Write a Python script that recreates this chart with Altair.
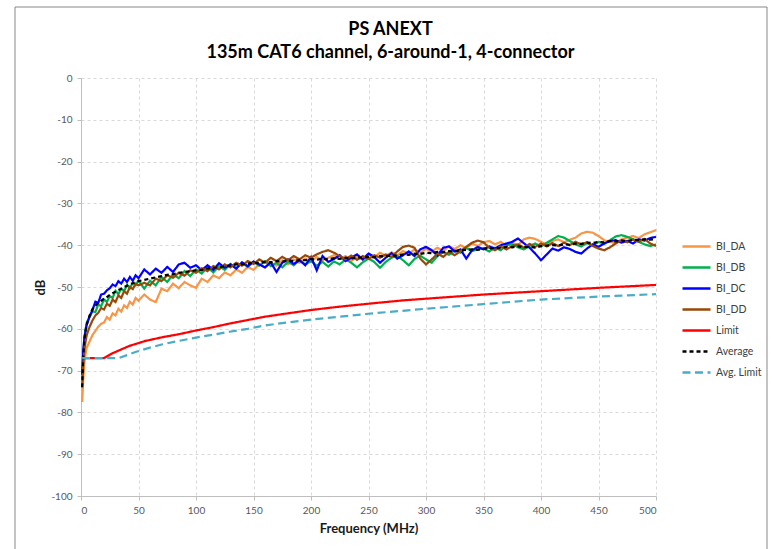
import altair as alt
import pandas as pd

# ---------------- data ----------------
FREQ = [1, 2, 3, 4, 5,
        7.5, 10, 12.5, 15, 17.5, 20, 22.5, 25, 27.5, 30, 32.5, 35, 37.5, 40, 42.5, 45, 47.5, 50,
        55, 60, 65, 70, 75, 80, 85, 90, 95, 100,
        105, 110, 115, 120, 125, 130, 135, 140, 145, 150,
        155, 160, 165, 170, 175, 180, 185, 190, 195, 200,
        205, 210, 215, 220, 225, 230, 235, 240, 245, 250,
        255, 260, 265, 270, 275, 280, 285, 290, 295, 300,
        305, 310, 315, 320, 325, 330, 335, 340, 345, 350,
        355, 360, 365, 370, 375, 380, 385, 390, 395, 400,
        405, 410, 415, 420, 425, 430, 435, 440, 445, 450,
        455, 460, 465, 470, 475, 480, 485, 490, 495, 500]

BI_DA = [-77.5, -72.0, -68.0, -66.0, -64.5,
         -63.0, -61.5, -60.5, -59.5, -58.8, -58.5, -57.2, -57.8, -56.3, -56.8, -55.2, -55.9, -54.4, -55.0, -53.5, -54.2, -52.6, -53.3,
         -51.8, -53.0, -53.6, -50.4, -51.0, -49.2, -50.3, -48.8, -49.6, -50.2,
         -48.0, -48.8, -47.2, -47.9, -46.5, -47.2, -45.8, -46.6, -45.2, -45.9,
         -44.6, -45.3, -44.2, -44.9, -43.6, -44.6, -43.4, -44.2, -43.2, -44.0,
         -42.8, -43.6, -43.0, -42.4, -43.3, -42.6, -43.8, -42.8, -43.5, -42.2,
         -42.9, -41.8, -42.6, -41.7, -42.4, -41.4, -42.1, -41.0, -41.8, -40.9,
         -41.5, -40.6, -41.4, -40.2, -40.9, -40.0, -40.7, -39.6, -40.2, -39.3,
         -39.0, -39.8, -39.2, -40.2, -39.4, -40.0, -38.6, -38.2, -38.5, -39.2,
         -39.9, -39.0, -38.6, -39.3, -38.7, -38.2, -37.2, -36.8, -37.0, -37.8,
         -38.8, -39.2, -39.5, -38.6, -38.2, -37.8, -38.3, -37.4, -36.9, -36.4]

BI_DB = [-72.0, -66.0, -62.0, -60.0, -58.5,
         -57.2, -55.8, -56.0, -54.2, -54.6, -53.0, -53.6, -52.2, -52.6, -50.9, -51.7, -50.4, -51.0, -49.5, -50.3, -49.0, -49.6, -48.4,
         -50.4, -48.5, -49.6, -47.6, -48.8, -47.0, -47.9, -46.2, -47.4, -45.8,
         -46.8, -45.3, -46.5, -45.0, -45.9, -44.5, -45.5, -44.2, -45.2, -44.0,
         -44.9, -43.8, -45.0, -44.2, -45.3, -44.0, -44.8, -43.5, -44.6, -43.8,
         -44.9, -44.0, -45.1, -43.9, -44.6, -43.4, -44.2, -45.3, -44.1, -43.2,
         -44.0, -45.4, -44.0, -43.0, -42.5, -43.6, -44.8, -43.3, -42.5, -43.4,
         -44.2, -42.6, -41.6, -42.3, -41.2, -41.8, -40.7, -41.4, -41.0, -40.8,
         -41.5, -40.6, -41.2, -40.0, -39.8, -40.5, -41.0, -40.2, -39.6, -40.3,
         -39.4, -38.6, -37.8, -38.2, -39.0, -39.8, -40.3, -39.5, -40.0, -39.2,
         -39.6, -38.8, -37.9, -37.6, -38.0, -38.6, -39.2, -39.8, -40.2, -39.8]

BI_DC = [-71.0, -65.0, -62.0, -60.5, -59.0,
         -57.0, -55.5, -53.5, -53.8, -51.8, -51.6, -50.8, -50.3, -49.4, -49.8, -48.6, -49.2, -48.0, -48.8, -47.6, -48.5, -47.2, -47.9,
         -45.8, -47.0, -45.6, -46.6, -45.2, -46.4, -44.6, -44.2, -45.4, -44.8,
         -46.0, -44.8, -45.9, -44.3, -45.4, -44.6, -45.6, -44.1, -45.0, -43.9,
         -44.6, -45.3, -44.1, -46.4, -44.2, -43.4, -44.5, -43.6, -44.8, -42.8,
         -46.0, -42.6, -44.0, -43.3, -42.4, -43.8, -43.0, -42.2, -43.4, -42.0,
         -42.8, -44.2, -43.0, -41.9, -43.2, -42.4, -41.5, -42.6, -41.0, -40.4,
         -41.2, -42.5, -40.6, -40.3, -41.5, -41.0, -43.2, -41.2, -40.4, -41.0,
         -40.3, -40.8, -40.0, -39.6, -39.2, -38.4, -39.5, -40.6, -42.0, -43.6,
         -42.2, -40.8, -41.3, -40.5, -40.9, -41.6, -42.0, -40.8, -39.8, -40.4,
         -39.6, -39.0, -38.8, -39.4, -39.0, -39.6, -38.6, -38.9, -38.3, -38.0]

BI_DD = [-74.0, -68.5, -65.0, -63.0, -61.5,
         -59.5, -58.0, -56.8, -56.2, -55.0, -55.4, -54.0, -54.5, -53.0, -53.6, -52.0, -52.6, -51.0, -51.6, -50.0, -50.5, -49.2, -49.6,
         -49.0, -49.6, -48.0, -48.6, -47.2, -47.8, -46.6, -47.3, -46.0, -46.6,
         -45.5, -46.2, -45.0, -45.8, -44.6, -45.3, -44.2, -44.9, -43.8, -44.5,
         -43.4, -44.2, -43.0, -43.8, -42.8, -43.6, -42.6, -43.4, -42.4, -43.0,
         -42.2, -41.6, -41.2, -41.8, -42.6, -43.4, -42.5, -43.5, -42.6, -43.3,
         -42.4, -43.0, -42.2, -42.8, -41.5, -40.4, -40.1, -40.6, -43.2, -44.6,
         -43.4, -42.0, -42.8, -41.6, -42.4, -41.4, -40.4, -39.4, -38.9, -39.3,
         -40.6, -41.2, -40.3, -41.0, -40.2, -39.8, -40.6, -39.7, -40.4, -39.6,
         -40.3, -39.5, -40.2, -39.4, -40.0, -39.2, -39.8, -39.3, -40.2, -40.8,
         -41.2, -40.5, -39.6, -38.8, -39.3, -38.6, -39.2, -38.5, -39.6, -40.2]

AVERAGE = [-74.0, -66.5, -62.5, -60.5, -59.0,
           -56.8, -55.3, -54.5, -53.8, -53.3, -52.8, -52.4, -51.9, -51.5, -51.1, -50.7, -50.4, -50.0, -49.7, -49.3, -49.1, -48.8, -48.6,
           -48.3, -48.0, -47.7, -47.4, -47.1, -46.9, -46.6, -46.4, -46.2, -46.0,
           -45.9, -45.6, -45.4, -45.3, -45.0, -44.9, -44.6, -44.6, -44.4, -44.2,
           -44.3, -44.0, -44.1, -43.8, -43.9, -43.6, -43.8, -43.5, -43.6, -43.3,
           -43.5, -43.2, -43.4, -43.1, -43.3, -43.0, -43.2, -42.9, -43.0, -42.8,
           -42.9, -42.6, -42.7, -42.4, -42.5, -42.2, -42.3, -42.0, -42.1, -41.8,
           -41.9, -41.6, -41.7, -41.4, -41.5, -41.2, -41.1, -41.0, -41.1, -40.8,
           -40.8, -40.6, -40.7, -40.4, -40.5, -40.3, -40.5, -40.4, -40.6, -40.2,
           -40.1, -40.0, -40.1, -39.8, -39.9, -39.6, -39.7, -39.4, -39.5, -39.2,
           -39.3, -39.0, -39.1, -38.9, -39.0, -38.7, -38.8, -38.6, -38.7, -38.5]

LIMIT_FREQ = [1, 20, 27, 42, 56, 71, 85, 100, 115, 130, 145, 160, 175, 200, 225, 250, 280, 300, 350, 400, 450, 500]
LIMIT = [-67.0, -67.0, -65.9, -64.1, -62.9, -62.0, -61.3, -60.4, -59.6, -58.7, -57.9, -57.1, -56.5,
         -55.5, -54.7, -54.0, -53.2, -52.8, -51.8, -51.0, -50.2, -49.5]

AVG_LIMIT_FREQ = [1, 33, 40, 48, 60, 71, 85, 100, 115, 129, 145, 158, 173, 200, 250, 300, 350, 400, 450, 500]
AVG_LIMIT = [-67.0, -67.0, -66.3, -65.5, -64.5, -63.7, -62.9, -62.1, -61.4, -60.7, -60.0, -59.3, -58.7,
             -57.8, -56.4, -55.2, -54.1, -53.0, -52.3, -51.7]

SERIES = ["BI_DA", "BI_DB", "BI_DC", "BI_DD", "Limit", "Average", "Avg. Limit"]
COLORS = ["#F79646", "#00B050", "#0000FF", "#984807", "#FF0000", "#000000", "#4BACC6"]
DASHES = [[1, 0], [1, 0], [1, 0], [1, 0], [1, 0], [4, 3], [8, 4.5]]

X_TICKS = [0, 50, 100, 150, 200, 250, 300, 350, 400, 450, 500]
Y_TICKS = [0, -10, -20, -30, -40, -50, -60, -70, -80, -90, -100]

TITLE = ["PS ANEXT", "135m CAT6 channel, 6-around-1, 4-connector"]

# ---------------- long table ----------------
rows = []
for name, fr, vals in [("BI_DA", FREQ, BI_DA), ("BI_DB", FREQ, BI_DB), ("BI_DC", FREQ, BI_DC),
                       ("BI_DD", FREQ, BI_DD), ("Limit", LIMIT_FREQ, LIMIT),
                       ("Average", FREQ, AVERAGE), ("Avg. Limit", AVG_LIMIT_FREQ, AVG_LIMIT)]:
    for f, v in zip(fr, vals):
        rows.append({"series": name, "freq": f, "db": v})
df = pd.DataFrame(rows)

FONT = "Lato"

legend = alt.Legend(
    title=None, orient="none", legendX=600, legendY=153,
    symbolType="stroke", symbolSize=784, symbolStrokeWidth=2.4,
    labelFont=FONT, labelFontSize=10.5, labelColor="#404040",
    labelOffset=4, rowPadding=-15, padding=0,
)

lines = alt.Chart(df).mark_line(strokeWidth=2.2).encode(
    x=alt.X("freq:Q",
            scale=alt.Scale(domain=[0, 500], nice=False, zero=False),
            axis=alt.Axis(values=X_TICKS, title="Frequency (MHz)", labelExpr="toString(datum.value)")),
    y=alt.Y("db:Q",
            scale=alt.Scale(domain=[-100, 0], nice=False),
            axis=alt.Axis(values=Y_TICKS, title="dB", labelExpr="toString(datum.value)",
                          titleX=-41, titleY=209, titleBaseline="middle", titleAlign="center")),
    color=alt.Color("series:N", scale=alt.Scale(domain=SERIES, range=COLORS), legend=legend),
    strokeDash=alt.StrokeDash("series:N", scale=alt.Scale(domain=SERIES, range=DASHES), legend=legend),
)

frame = alt.Chart(pd.DataFrame({"k": [0]})).mark_rect(
    fillOpacity=0, stroke="#888888", strokeWidth=1
).encode(x=alt.value(-66), x2=alt.value(686), y=alt.value(-71), y2=alt.value(490))

chart = alt.layer(frame, lines).properties(
    width=575, height=418,
    padding={"left": 81, "top": 78, "right": 116, "bottom": 53},
    autosize=alt.AutoSizeParams(type="none"),
    title=alt.Title(text=TITLE, font=FONT, fontSize=18, fontWeight="bold", color="#000000",
                    anchor="middle", frame="group", dx=22, offset=-55, lineHeight=23),
    background="white",
).configure_view(
    stroke=None
).configure_axis(
    domainColor="#bfbfbf", tickColor="#bfbfbf", tickSize=4,
    labelFont=FONT, labelFontSize=10, labelColor="#595959",
    grid=True, gridColor="#d9d9d9", gridDash=[3, 3], gridWidth=1,
    titleFont=FONT, titleFontSize=13, titleFontWeight="bold", titleColor="#1a1a1a",
).configure_axisX(
    labelPadding=5, titlePadding=7,
).configure_axisY(
    labelPadding=5,
)

chart.save("out.html", embed_options={"renderer": "svg", "actions": False})
